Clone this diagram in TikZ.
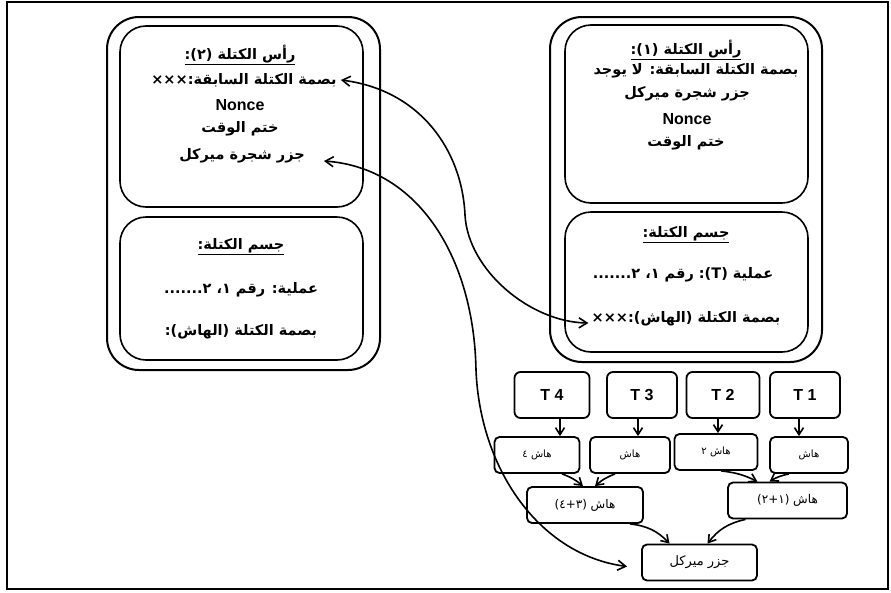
\documentclass[tikz,border=0pt]{standalone}
\usepackage{fontspec}
\usetikzlibrary{arrows.meta}
\newfontfamily\arabicfont[Script=Arabic]{DejaVu Sans}
\newfontfamily\latinfont{Liberation Sans}
\TeXXeTstate=1

\begin{document}
\begin{tikzpicture}[x=1pt,y=-1pt,
    blockbox/.style={draw,line width=2pt,rounded corners=32pt,inner sep=0pt},
    partbox/.style={draw,line width=1.6pt,rounded corners=26pt,inner sep=0pt},
    ar/.style={font=\arabicfont\bfseries\fontsize{14.5}{17}\selectfont,inner sep=1pt},
    latin/.style={font=\latinfont\bfseries\fontsize{16}{18}\selectfont,inner sep=1pt},
    tbox/.style={draw,line width=1.8pt,rounded corners=6pt,minimum height=46pt,
      font=\latinfont\bfseries\fontsize{16}{18}\selectfont},
    hbox/.style={draw,line width=1.8pt,rounded corners=5pt,minimum height=36pt,
      font=\arabicfont\fontsize{10}{12}\selectfont},
    link/.style={{Straight Barb[length=8pt,width=10pt]}-{Straight Barb[length=8pt,width=10pt]},
      line width=1.6pt},
    tarrow/.style={-{Straight Barb[length=7pt,width=9pt]},line width=1.6pt}]
  \useasboundingbox (0,0) rectangle (891,592);
  \draw[line width=2pt] (7,2) rectangle (888,589);

  % block (2), left
  \node[blockbox,minimum width=273,minimum height=353] (block2) at (243.5,193.5) {};
  \node[partbox,minimum width=243,minimum height=181] (head2) at (241.5,116.5) {};
  \node[partbox,minimum width=243,minimum height=143] (body2) at (241.5,288.5) {};
  \node[ar] (title2) at (240,55) {\underline{\beginR رأس الكتلة (٢):\endR}};
  \node[ar] (prev2) at (244,80) {\beginR بصمة الكتلة السابقة:×××\endR};
  \node[latin] (nonce2) at (240,105) {Nonce};
  \node[ar] (time2) at (240,129) {\beginR ختم الوقت\endR};
  \node[ar] (root2) at (242,156) {\beginR جزر شجرة ميركل\endR};
  \node[ar] (btitle2) at (241,247) {\underline{\beginR جسم الكتلة:\endR}};
  \node[ar] (tx2) at (241,290) {\beginR عملية: رقم ١، ٢.......\endR};
  \node[ar] (hash2) at (241,332) {\beginR بصمة الكتلة (الهاش):\endR};

  % block (1), right
  \node[blockbox,minimum width=272,minimum height=345] (block1) at (686,189.5) {};
  \node[partbox,minimum width=243,minimum height=178] (head1) at (686.5,114) {};
  \node[partbox,minimum width=243,minimum height=140] (body1) at (686.5,282) {};
  \node[ar] (title1) at (686,50) {\underline{\beginR رأس الكتلة (١):\endR}};
  \node[ar] (prev1) at (696,71) {\beginR بصمة الكتلة السابقة: لا يوجد\endR};
  \node[ar] (root1) at (687,94) {\beginR جزر شجرة ميركل\endR};
  \node[latin] (nonce1) at (687,119) {Nonce};
  \node[ar] (time1) at (686,143) {\beginR ختم الوقت\endR};
  \node[ar] (btitle1) at (686,235) {\underline{\beginR جسم الكتلة:\endR}};
  \node[ar] (tx1) at (683,275) {\beginR عملية \beginL:(T)\endL{} رقم ١، ٢.......\endR};
  \node[ar] (hash1) at (686,319) {\beginR بصمة الكتلة (الهاش):×××\endR};

  % merkle tree
  \node[tbox,minimum width=75] (t4) at (552,395) {T 4};
  \node[tbox,minimum width=70] (t3) at (642,395) {T 3};
  \node[tbox,minimum width=73] (t2) at (723,395) {T 2};
  \node[tbox,minimum width=70] (t1) at (805,395) {T 1};
  \node[hbox,minimum width=85] (h4) at (537,455) {\beginR هاش ٤\endR};
  \node[hbox,minimum width=80] (h3) at (630,455) {\beginR هاش\endR};
  \node[hbox,minimum width=83] (h2) at (716,452) {\beginR هاش ٢\endR};
  \node[hbox,minimum width=78] (h1) at (809,455) {\beginR هاش\endR};
  \node[hbox,minimum width=116,font=\arabicfont\fontsize{12}{14}\selectfont] (h34) at (585,505) {\beginR هاش (٣+٤)\endR};
  \node[hbox,minimum width=119,font=\arabicfont\fontsize{12}{14}\selectfont] (h12) at (787.5,500.5) {\beginR هاش (١+٢)\endR};
  \node[hbox,minimum width=115,font=\arabicfont\fontsize{13}{15}\selectfont] (mroot) at (699.5,562.5) {\beginR جزر ميركل\endR};

  \draw[tarrow] ([xshift=8]t4.south) -- ([xshift=8]t4.south |- h4.north);
  \draw[tarrow] ([xshift=-4]t3.south) -- ([xshift=-4]t3.south |- h3.north);
  \draw[tarrow] ([xshift=-5]t2.south) -- ([xshift=-5]t2.south |- h2.north);
  \draw[tarrow] ([xshift=-6]t1.south) -- ([xshift=-6]t1.south |- h1.north);
  \draw[tarrow] ([xshift=25]h4.south) to[bend left=10] ([xshift=-2]h34.north);
  \draw[tarrow] ([xshift=-15]h3.south) to[bend right=10] ([xshift=10]h34.north);
  \draw[tarrow] ([xshift=5]h2.south) to[bend left=10] ([xshift=-30]h12.north);
  \draw[tarrow] ([xshift=-20]h1.south) to[bend right=10] ([xshift=-18]h12.north);
  \draw[tarrow] ([xshift=45]h34.south) to[bend left=20] ([xshift=-30]mroot.north);
  \draw[tarrow] ([xshift=-42]h12.south) to[bend right=20] ([xshift=8]mroot.north);

  % links between the blocks
  \draw[link] ([xshift=3]prev2.east) .. controls (420,90) and (462,150) .. (465,215)
    .. controls (468,270) and (530,322) .. ([xshift=-2,yshift=-4]hash1.west);
  \draw[link] ([xshift=18,yshift=-5]root2.east) .. controls (420,168) and (474,260) .. (476,370)
    .. controls (480,470) and (540,555) .. ([xshift=-14,yshift=-4]mroot.west);
\end{tikzpicture}
\end{document}
